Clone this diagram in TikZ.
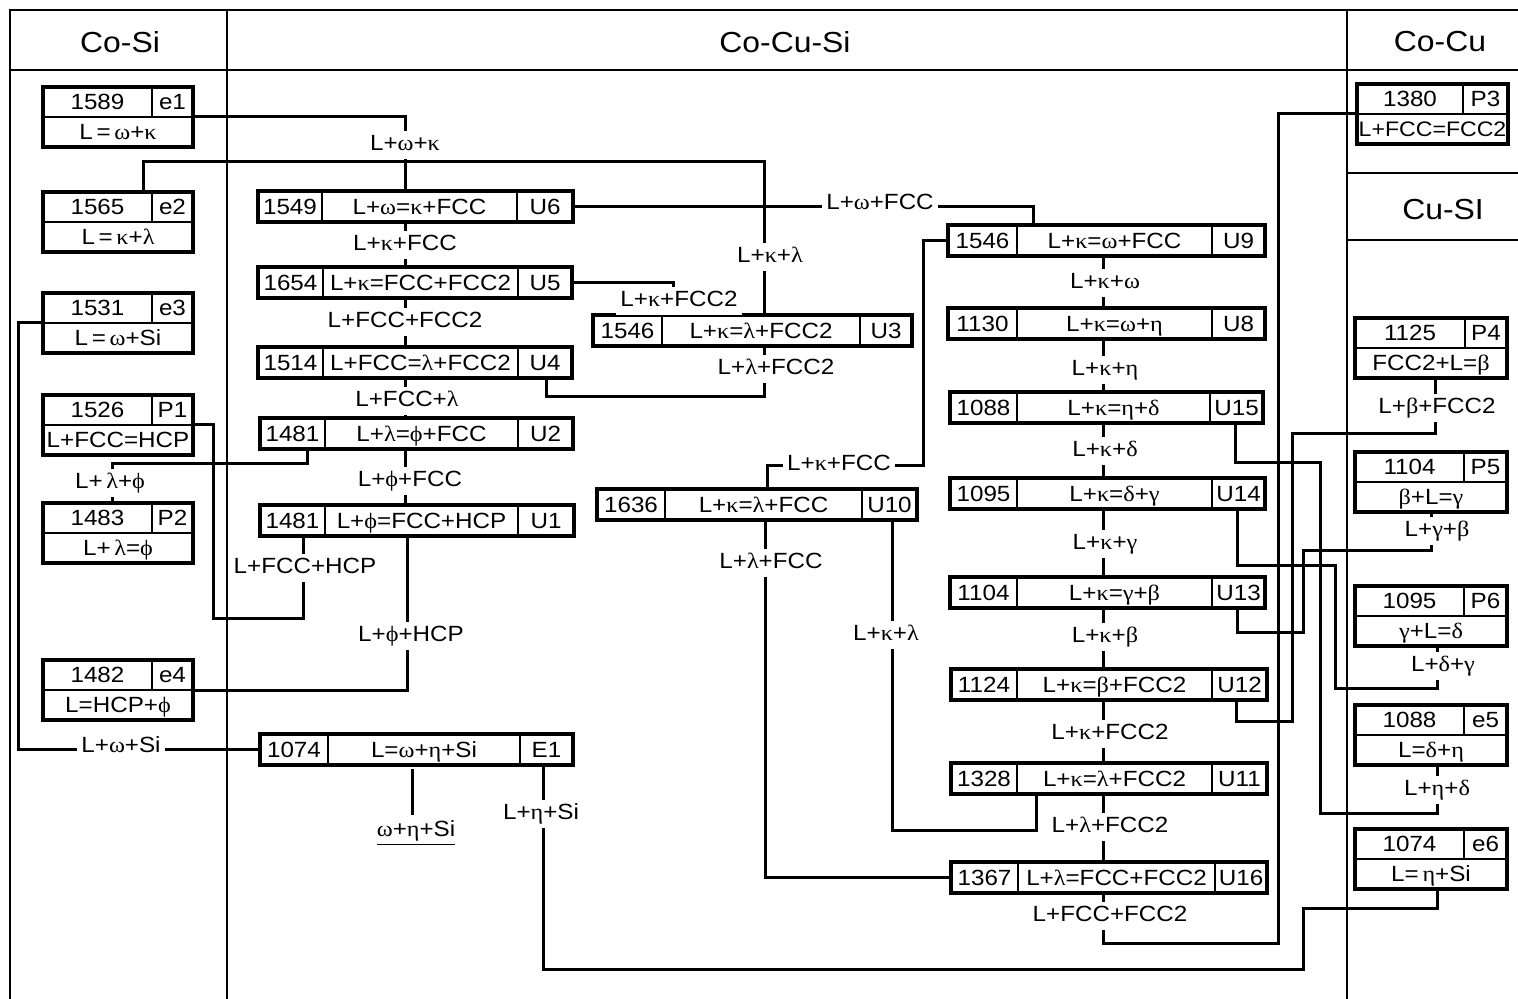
\documentclass[tikz,border=0pt]{standalone}
\usepackage{fontspec}
\setmainfont{Liberation Sans}[FakeStretch=1.1]
\newfontfamily\gkf{Liberation Serif}[FakeStretch=1.1]
\usetikzlibrary{calc}
\newcommand\xom{{\gkf ω}}
\newcommand\xka{{\gkf κ}}
\newcommand\xla{{\gkf λ}}
\newcommand\xph{{\gkf ϕ}}
\newcommand\xeta{{\gkf η}}
\newcommand\xde{{\gkf δ}}
\newcommand\xga{{\gkf γ}}
\newcommand\xbe{{\gkf β}}
\tikzset{
  frame/.style={line width=0.75pt},
  conn/.style={line width=1.5pt},
  outerbox/.style={draw, line width=1.8pt, inner sep=0pt, outer sep=0pt},
  innerline/.style={line width=1.1pt},
  btext/.style={inner sep=0pt, text height=7.9pt, text depth=0pt, font=\fontsize{11}{13}\selectfont},
  lbl/.style={fill=white, inner sep=2pt, text height=7.9pt, text depth=2pt, font=\fontsize{11}{13}\selectfont},
  hdr/.style={font=\fontsize{14.5}{17}\selectfont},
}
% single-row box: name, x1, xdiv1, xdiv2, x2, ytop, number, reaction, label
\newcommand\ubox[9]{%
  \node[outerbox, minimum width={(#5-#2)*0.5pt}, minimum height=15.5pt, anchor=north west] (#1) at (#2,#6) {};
  \draw[innerline] (#3,#6) -- (#3,{#6+31});
  \draw[innerline] (#4,#6) -- (#4,{#6+31});
  \node[btext] (#1-n) at ({(#2+#3)/2},{#6+15.5}) {#7};
  \node[btext] (#1-r) at ({(#3+#4)/2},{#6+15.5}) {#8};
  \node[btext] (#1-l) at ({(#4+#5)/2},{#6+15.5}) {#9};
}
% two-row box: name, x1, xdiv, x2, ytop, number, label, reaction
\newcommand\tbox[8]{%
  \node[outerbox, minimum width={(#4-#2)*0.5pt}, minimum height=30pt, anchor=north west] (#1) at (#2,#5) {};
  \draw[innerline] (#2,{#5+30}) -- (#4,{#5+30});
  \draw[innerline] (#3,#5) -- (#3,{#5+30});
  \node[btext] (#1-n) at ({(#2+#3)/2},{#5+15}) {#6};
  \node[btext] (#1-l) at ({(#3+#4)/2},{#5+15}) {#7};
  \node[btext] (#1-r) at ({(#2+#4)/2},{#5+45}) {#8};
}
\begin{document}
\begin{tikzpicture}[x=0.5pt,y=-0.5pt]
\useasboundingbox (0,0) rectangle (1518,999);
% frame
\draw[frame] (10,999) -- (10,10) -- (1518,10);
\draw[frame] (10,70) -- (1518,70);
\draw[frame] (227,10) -- (227,999);
\draw[frame] (1347,10) -- (1347,999);
\draw[frame] (1347,173) -- (1518,173);
\draw[frame] (1347,240) -- (1518,240);
\node[hdr] (hCoSi) at (120,42) {Co-Si};
\node[hdr] (hCoCuSi) at (785,42) {Co-Cu-Si};
\node[hdr] (hCoCu) at (1440,42) {Co-Cu};
\node[hdr] (hCuSi) at (1443,210) {Cu-SI};

% side boxes
\tbox{e1}{43}{152}{193}{87}{1589}{e1}{L\,=\,\xom+\xka}
\tbox{e2}{43}{152}{193}{192}{1565}{e2}{L\,=\,\xka+\xla}
\tbox{e3}{43}{152}{193}{293}{1531}{e3}{L\,=\,\xom+Si}
\tbox{P1}{43}{152}{193}{395}{1526}{P1}{L+FCC=HCP}
\tbox{P2}{43}{152}{193}{503}{1483}{P2}{L+\,\xla=\xph}
\tbox{e4}{43}{152}{193}{660}{1482}{e4}{L=HCP+\xph}
\tbox{P3}{1357}{1463}{1508}{84}{1380}{P3}{\fontsize{10.5}{12}\selectfont L+FCC=FCC2}
\tbox{P4}{1355}{1465}{1507}{318}{1125}{P4}{FCC2+L=\xbe}
\tbox{P5}{1355}{1464}{1507}{452}{1104}{P5}{\xbe+L=\xga}
\tbox{P6}{1355}{1464}{1507}{586}{1095}{P6}{\xga+L=\xde}
\tbox{e5}{1355}{1464}{1507}{705}{1088}{e5}{L=\xde+\xeta}
\tbox{e6}{1355}{1464}{1507}{829}{1074}{e6}{L=\,\xeta+Si}

% middle boxes
\ubox{U6}{258}{322}{517}{573}{191}{1549}{L+\xom=\xka+FCC}{U6}
\ubox{U5}{258}{323}{518}{572}{267}{1654}{L+\xka=FCC+FCC2}{U5}
\ubox{U4}{258}{323}{518}{572}{347}{1514}{L+FCC=\xla+FCC2}{U4}
\ubox{U2}{260}{325}{518}{573}{418}{1481}{L+\xla=\xph+FCC}{U2}
\ubox{U1}{260}{325}{518}{574}{505}{1481}{L+\xph=FCC+HCP}{U1}
\ubox{U3}{593}{662}{860}{912}{315}{1546}{L+\xka=\xla+FCC2}{U3}
\ubox{U10}{597}{665}{862}{917}{489}{1636}{L+\xka=\xla+FCC}{U10}
\ubox{E1}{260}{328}{520}{573}{734}{1074}{L=\xom+\xeta+Si}{E1}
\ubox{U9}{948}{1017}{1212}{1265}{225}{1546}{L+\xka=\xom+FCC}{U9}
\ubox{U8}{948}{1017}{1212}{1265}{308}{1130}{L+\xka=\xom+\xeta}{U8}
\ubox{U15}{950}{1017}{1210}{1263}{392}{1088}{L+\xka=\xeta+\xde}{U15}
\ubox{U14}{950}{1017}{1212}{1265}{478}{1095}{L+\xka=\xde+\xga}{U14}
\ubox{U13}{950}{1017}{1212}{1265}{577}{1104}{L+\xka=\xga+\xbe}{U13}
\ubox{U12}{951}{1017}{1212}{1267}{669}{1124}{L+\xka=\xbe+FCC2}{U12}
\ubox{U11}{951}{1017}{1212}{1267}{763}{1328}{L+\xka=\xla+FCC2}{U11}
\ubox{U16}{951}{1018}{1215}{1267}{862}{1367}{L+\xla=FCC+FCC2}{U16}

\node[btext] (sol) at (416,829) {\underline{\xom+\xeta+Si}};

% connectors
\draw[conn] (e1.east) -| (405,0 |- U6.north);
\draw[conn] (143,0 |- e2.north) |- (764,162) -- (764,0 |- U3.north);
\draw[conn] (U6.east) -| (1033,0 |- U9.north);
\draw[conn] (405,0 |- U6.south) -- (405,0 |- U5.north);
\draw[conn] (U5.east) -| (673,0 |- U3.north);
\draw[conn] (405,0 |- U5.south) -- (405,0 |- U4.north);
\draw[conn] (764,0 |- U3.south) |- (546,397) -- (546,0 |- U4.south);
\draw[conn] (405,0 |- U4.south) -- (405,0 |- U2.north);
\draw[conn] (307,0 |- U2.south) |- (112,463) -- (112,0 |- P2.north);
\draw[conn] (405,0 |- U2.south) -- (405,0 |- U1.north);
\draw[conn] (P1.east) -| (213,618) -| (303,0 |- U1.south);
\draw[conn] (407,0 |- U1.south) |- (e4.east);
\draw[conn] (e3.west) -| (18,0 |- E1.west) -- (E1.west);
\draw[conn] ($(E1.south -| 412,0)+(0,4)$) -- ($(sol.north -| 412,0)+(0,-6)$);
\draw[conn] (543,0 |- E1.south) |- (1303,969) |- (1437,908) -- (1437,0 |- e6.south);
\draw[conn] (1103,0 |- U16.south) |- (1278,943) |- (P3.west);
\draw[conn] (1103,0 |- U9.south) -- (1103,0 |- U8.north);
\draw[conn] (1103,0 |- U8.south) -- (1103,0 |- U15.north);
\draw[conn] (1103,0 |- U15.south) -- (1103,0 |- U14.north);
\draw[conn] (1103,0 |- U14.south) -- (1103,0 |- U13.north);
\draw[conn] (1103,0 |- U13.south) -- (1103,0 |- U12.north);
\draw[conn] (1103,0 |- U12.south) -- (1103,0 |- U11.north);
\draw[conn] (1103,0 |- U11.south) -- (1103,0 |- U16.north);
\draw[conn] (767,0 |- U10.north) |- (923,465) |- (U9.west);
\draw[conn] (765,0 |- U10.south) |- (U16.west);
\draw[conn] (892,0 |- U10.south) |- (1036,830) -- (1036,0 |- U11.south);
\draw[conn] (1435,0 |- P4.south) |- (1292,433) |- (1236,721) -- (1236,0 |- U12.south);
\draw[conn] (1235,0 |- U15.south) |- (1320,462) |- (1437,813) -- (1437,0 |- e5.south);
\draw[conn] (1237,0 |- U14.south) |- (1335,565) |- (1437,688) -- (1437,0 |- P6.south);
\draw[conn] (1237,0 |- U13.south) |- (1303,632) |- (1431,550) -- (1431,0 |- P5.south);

% labels
\node[lbl] (l1) at (405,145) {L+\xom+\xka};
\node[lbl] (l2) at (770,257) {L+\xka+\xla};
\node[lbl] (l3) at (880,204) {L+\xom+FCC};
\node[lbl] (l4) at (405,245) {L+\xka+FCC};
\node[lbl] (l5) at (679,301) {L+\xka+FCC2};
\node[lbl] (l6) at (405,322) {L+FCC+FCC2};
\node[lbl] (l7) at (776,369) {L+\xla+FCC2};
\node[lbl] (l8) at (407,401) {L+FCC+\xla};
\node[lbl] (l9) at (110,483) {L+\,\xla+\xph};
\node[lbl] (l10) at (410,481) {L+\xph+FCC};
\node[lbl] (l11) at (305,568) {L+FCC+HCP};
\node[lbl] (l12) at (411,636) {L+\xph+HCP};
\node[lbl] (l13) at (121,747) {L+\xom+Si};
\node[lbl] (l14) at (541,814) {L+\xeta+Si};
\node[lbl] (l15) at (839,465) {L+\xka+FCC};
\node[lbl] (l16) at (771,563) {L+\xla+FCC};
\node[lbl] (l17) at (886,635) {L+\xka+\xla};
\node[lbl] (m1) at (1105,283) {L+\xka+\xom};
\node[lbl] (m2) at (1105,370) {L+\xka+\xeta};
\node[lbl] (m3) at (1105,451) {L+\xka+\xde};
\node[lbl] (m4) at (1105,544) {L+\xka+\xga};
\node[lbl] (m5) at (1105,637) {L+\xka+\xbe};
\node[lbl] (m6) at (1110,734) {L+\xka+FCC2};
\node[lbl] (m7) at (1110,827) {L+\xla+FCC2};
\node[lbl] (m8) at (1110,916) {L+FCC+FCC2};
\node[lbl] (r1) at (1437,408) {L+\xbe+FCC2};
\node[lbl] (r2) at (1437,531) {L+\xga+\xbe};
\node[lbl] (r3) at (1443,666) {L+\xde+\xga};
\node[lbl] (r4) at (1437,790) {L+\xeta+\xde};
\end{tikzpicture}
\end{document}
